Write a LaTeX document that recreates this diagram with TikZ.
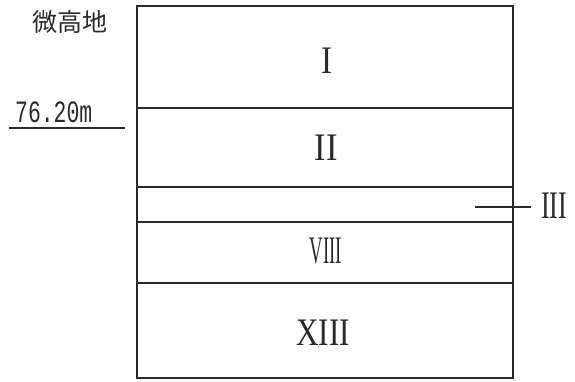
\documentclass[tikz,border=0pt]{standalone}
\usepackage{fontspec}
\setmainfont{Liberation Serif}
\newfontfamily\jpfont{Noto Sans CJK JP}
\newfontfamily\monofont{Liberation Mono}
\usepackage{xcolor}
\definecolor{CInk}{HTML}{2A2A2A}
\usetikzlibrary{positioning}
\tikzstyle{layerLine}=[draw=CInk, line width=1.6pt]
\tikzstyle{layerLabel}=[text=CInk, inner sep=0pt, font=\fontsize{39}{39}\selectfont]
\tikzstyle{sideLabel}=[text=CInk, inner sep=0pt, font=\fontsize{39}{39}\selectfont]
\tikzstyle{noteLabel}=[text=CInk, inner sep=0pt]

\begin{document}
\begin{tikzpicture}[x=1pt, y=-1pt]
\useasboundingbox (0,0) rectangle (575,381);
% column outline and layer boundaries
\draw[layerLine] (137,6) rectangle (513,378);
\draw[layerLine] (137,108) -- (513,108);
\draw[layerLine] (137,187) -- (513,187);
\draw[layerLine] (137,222) -- (513,222);
\draw[layerLine] (137,283) -- (513,283);
% layer names
\node[layerLabel] (l1) at (327,61) {\scalebox{0.85}[1]{I}};
\node[layerLabel] (l2) at (326,148) {\scalebox{0.88}[1]{II}};
\node[layerLabel] (l8) at (326,251) {\scalebox{0.48}[1]{VIII}};
\node[layerLabel] (l13) at (323,333) {\scalebox{0.8}[1]{XIII}};
\node[sideLabel, anchor=west] (l3) at (541,206) {\scalebox{0.67}[1]{III}};
\coordinate (p3) at (475,207);
\draw[layerLine] (p3) -- ([xshift=-10pt]l3.west |- p3);
% site notes
\node[noteLabel, font=\jpfont\fontsize{25}{25}\selectfont] (site) at (70,22) {微高地};
\node[noteLabel, anchor=base west, font=\monofont\fontsize{31}{31}\selectfont] (lvl) at (15,122) {\scalebox{0.69}[1]{76.20m}};
\coordinate (u0) at (9,128);
\coordinate (u1) at (125,128);
\draw[layerLine] (u0) -- (u1);
\end{tikzpicture}
\end{document}
